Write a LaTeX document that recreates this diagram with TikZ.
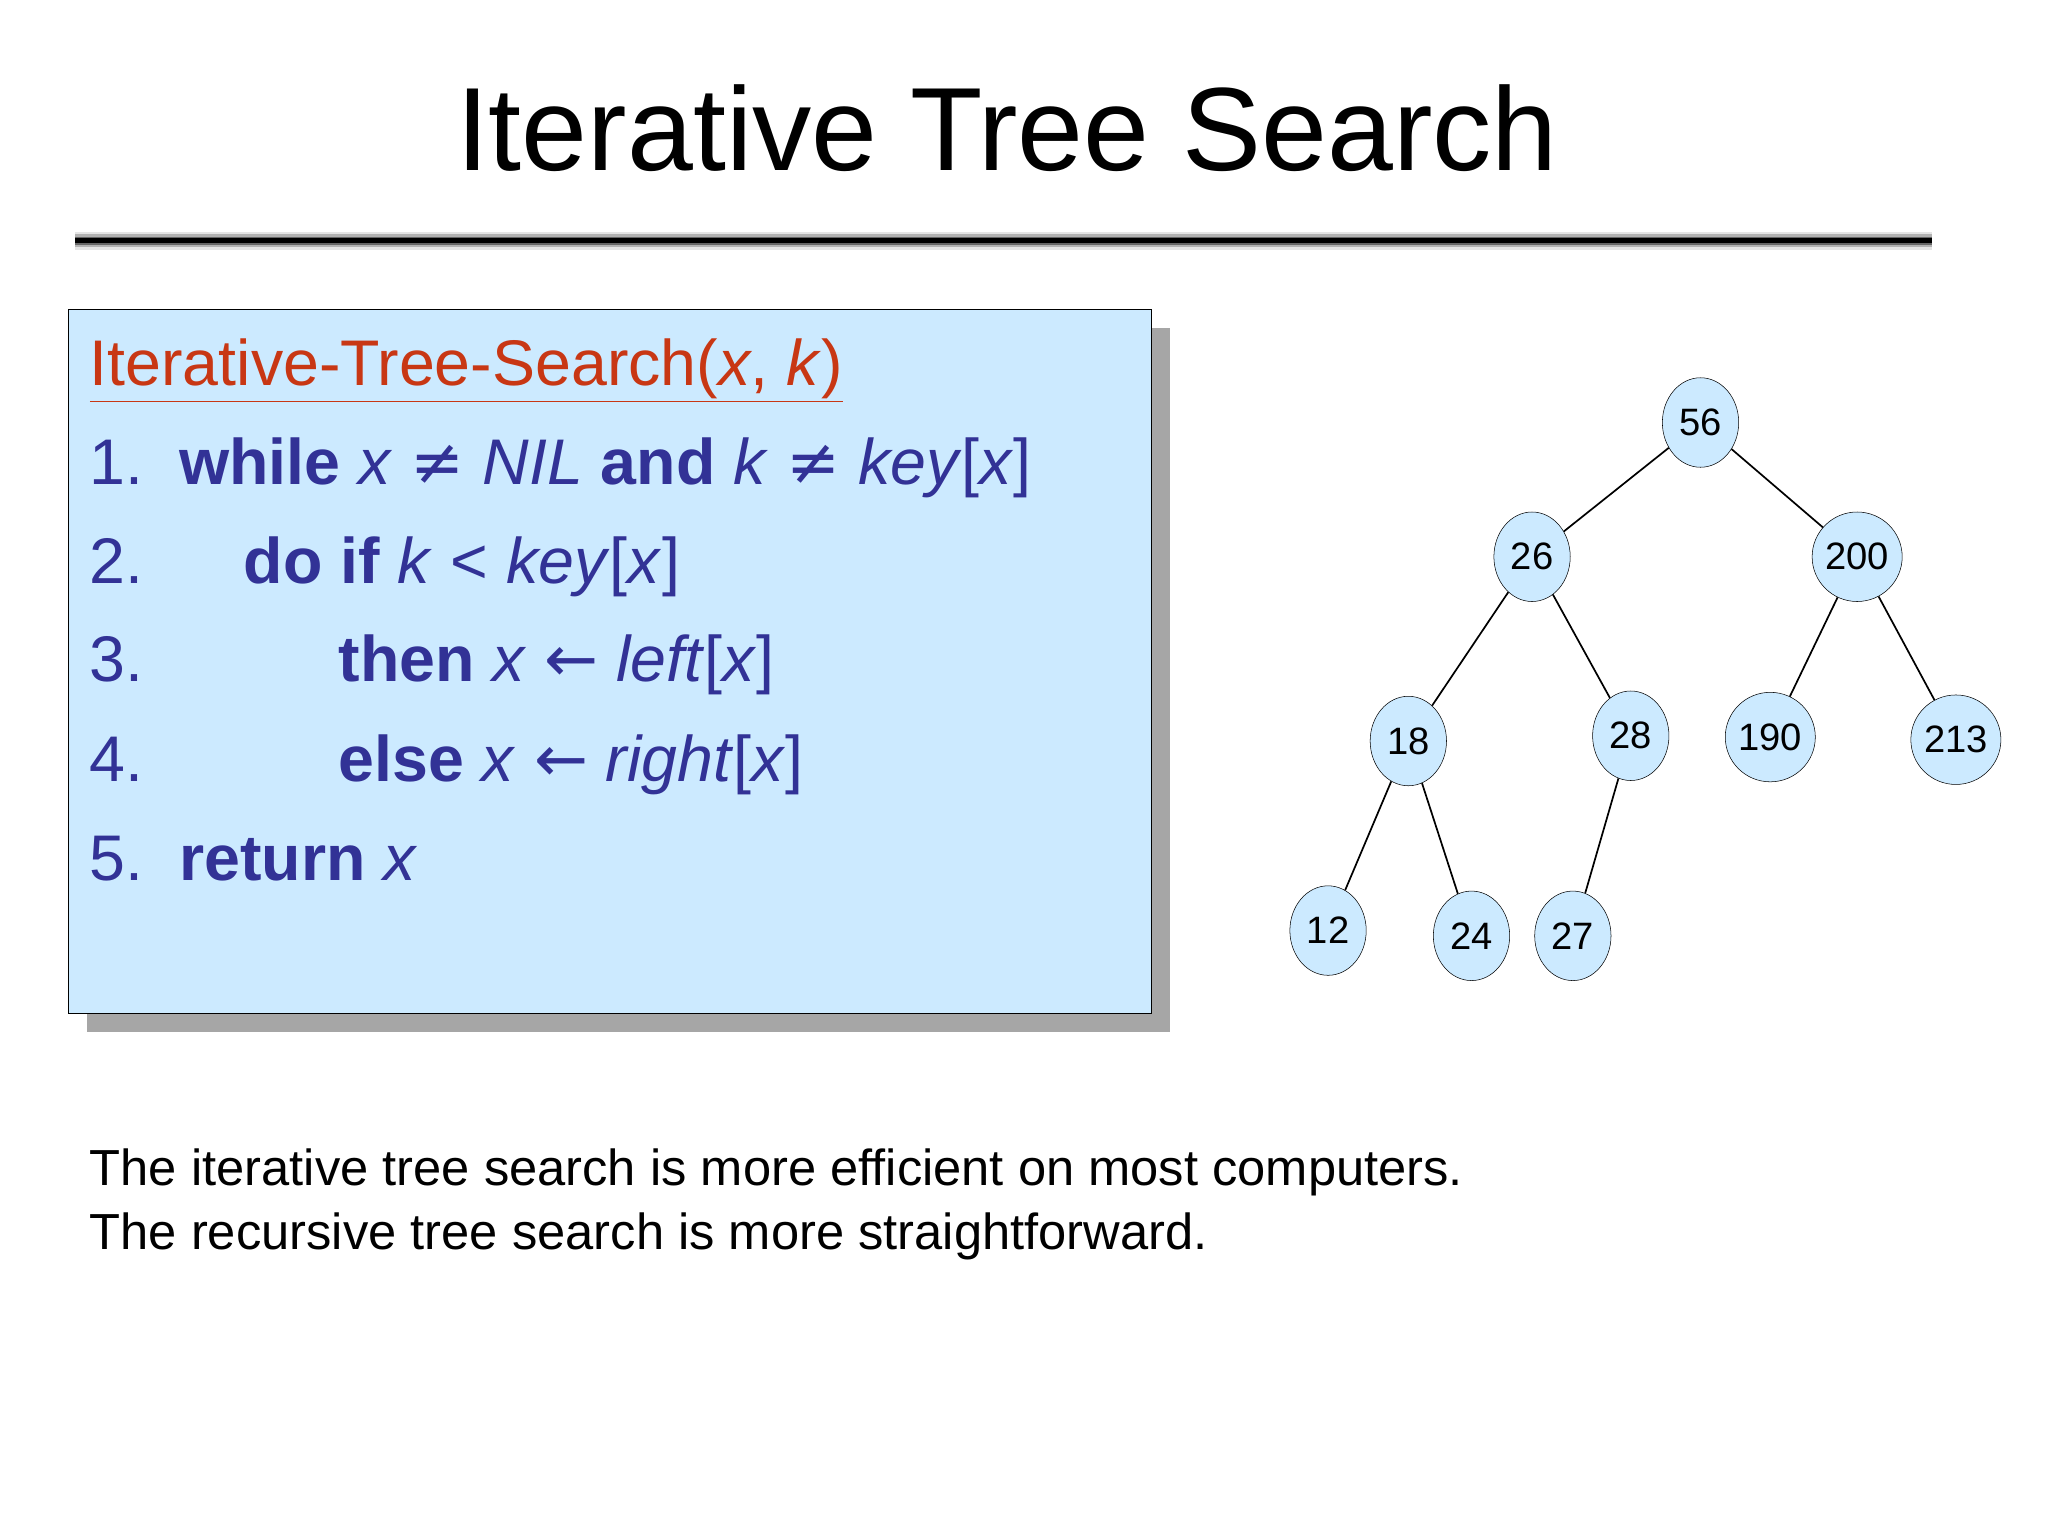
\documentclass[tikz,border=0pt]{standalone}
\usetikzlibrary{shapes.geometric}
\usepackage{fontspec}
\setmainfont{Liberation Sans}
\newfontfamily\symf{DejaVu Sans}
\definecolor{boxfill}{RGB}{204,234,255}
\definecolor{headc}{RGB}{200,55,20}
\definecolor{codec}{RGB}{50,50,150}
\begin{document}
\begin{tikzpicture}[x=1pt,y=-1pt,
  tn/.style={draw,fill=boxfill,ellipse,minimum width=58pt,minimum height=68pt,inner sep=0pt,font=\fontsize{29}{30}\selectfont},
  cl/.style={anchor=base west,font=\fontsize{49}{56}\selectfont,text=codec,inner sep=0pt}]
\useasboundingbox (0,0) rectangle (1556,1167);
\node (title) at (765,97) {\fontsize{90}{96}\selectfont Iterative Tree Search};
\foreach \w/\o in {14/10,10/30,6/60,3/100}{\draw[line width=\w pt,black!\o] (57,183)--(1468,183);}
\draw[line width=4pt] (57,183)--(1468,183);
\fill[gray!70] (66,249) rectangle (889,784);
\draw[fill=boxfill] (52,235) rectangle (875,770);
\node[cl,text=headc] (h) at (68,293) {\underline{Iterative-Tree-Search(\textit{x}, \textit{k})}};
\node[cl] (l1) at (68,368) {1.\ \ \textbf{while} \textit{x} {\symf ≠} \textit{NIL} \textbf{and} \textit{k} {\symf ≠} \textit{key}[\textit{x}]};
\node[cl] (l2) at (68,443) {2.};
\node[cl] at (185,443) {\textbf{do if} \textit{k} < \textit{key}[\textit{x}]};
\node[cl] (l3) at (68,518) {3.};
\node[cl] at (257,518) {\textbf{then} \textit{x} {\symf ←} \textit{left}[\textit{x}]};
\node[cl] (l4) at (68,594) {4.};
\node[cl] at (257,594) {\textbf{else} \textit{x} {\symf ←} \textit{right}[\textit{x}]};
\node[cl] (l5) at (68,669) {5.\ \ \textbf{return} \textit{x}};
\node[tn] (n56) at (1292,321) {56};
\node[tn] (n26) at (1164,423) {26};
\node[tn] (n200) at (1411,423) {200};
\node[tn] (n18) at (1070,563) {18};
\node[tn] (n28) at (1239,559) {28};
\node[tn] (n190) at (1345,560) {190};
\node[tn] (n213) at (1486,562) {213};
\node[tn] (n12) at (1009,707) {12};
\node[tn] (n24) at (1118,711) {24};
\node[tn] (n27) at (1195,711) {27};
\foreach \a/\b in {56/26,56/200,26/18,26/28,200/190,200/213,18/12,18/24,28/27}
  \draw[line width=1.3pt] (n\a)--(n\b);
\node[anchor=base west,inner sep=0pt,font=\fontsize{38.5}{48}\selectfont,align=left] (foot) at (68,949)
 {The iterative tree search is more efficient on most computers.\\The recursive tree search is more straightforward.};
\end{tikzpicture}
\end{document}
